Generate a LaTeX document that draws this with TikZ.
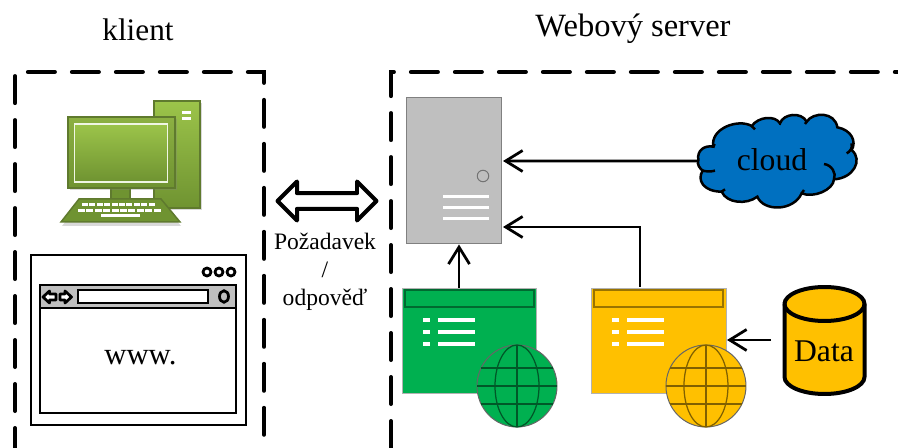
\documentclass[tikz,border=0pt]{standalone}
\usepackage{fontspec}
\setmainfont{Liberation Serif}
\usetikzlibrary{arrows.meta,shapes.arrows,shadows}

\definecolor{pcgreen}{HTML}{9CC44A}
\definecolor{pcdark}{HTML}{6F9331}
\definecolor{pcline}{HTML}{5F7A2E}
\definecolor{wingreen}{HTML}{00B050}
\definecolor{winyellow}{HTML}{FFC000}
\definecolor{cloudblue}{HTML}{0070C0}
\definecolor{servergray}{HTML}{BFBFBF}

\tikzset{
  zone/.style={draw,line width=0.08cm,line cap=round,dash pattern=on 0.54cm off 0.34cm},
  link/.style={draw,line width=0.055cm,-{Straight Barb[length=0.34cm,width=0.42cm]}},
  title/.style={anchor=base,font=\fontsize{18}{22}\selectfont},
  outline/.style={draw,line width=0.055cm},
  webwin/.style={draw=black!30,line width=0.02cm,minimum width=2.7cm,minimum height=2.12cm,inner sep=0},
}

% list, title bar and globe of one web window
\newcommand{\windowparts}[2]{
\begin{scope}[xshift=#1]
\path[draw=#2!60!black,line width=0.025cm] (405,290) rectangle (534,307);
\foreach \row in {320,332,344}{
  \path[fill=white] (423,\row-2) rectangle (430,\row+2);
  \path[fill=white] (438,\row-2) rectangle (475,\row+2);
}
\path[draw=black!60,fill=#2,line width=0.02cm] (517,386) ellipse (0.8cm and 0.82cm);
\path[draw=#2!50!black,line width=0.025cm] (517,386) ellipse (0.44cm and 0.82cm);
\path[draw=#2!50!black,line width=0.025cm] (517,345) -- (517,427);
\path[draw=#2!50!black,line width=0.025cm] (477,386) -- (557,386);
\path[draw=#2!50!black,line width=0.025cm] (481,368) -- (553,368);
\path[draw=#2!50!black,line width=0.025cm] (481,404) -- (553,404);
\end{scope}
}

\begin{document}
\begin{tikzpicture}[x=0.02cm,y=-0.02cm]
\useasboundingbox (0,0) rectangle (898,448);

\node[title,font=\fontsize{17.8}{22}\selectfont] (clienttitle) at (138,41) {klient};
\node[title,font=\fontsize{18.5}{22}\selectfont] (servertitle) at (633,37) {Webový server};

\path[zone,dash phase=0.14cm] (15,448) -- (15,72) -- (264,72) -- (264,448);
\path[zone] (391,448) -- (391,72) -- (898,72);

% computer
\path[draw=pcline,line width=0.03cm,top color=pcgreen,bottom color=pcdark,drop shadow={opacity=0.3,shadow xshift=0.03cm,shadow yshift=-0.05cm}] (154,101) rectangle (200,208);
\path[fill=white] (182,111) rectangle (191,114);
\path[fill=white] (182,117) rectangle (191,120);
\path[draw=pcline,line width=0.03cm,fill=pcdark] (111,186) rectangle (130,201);
\path[draw=pcline,line width=0.03cm,fill=pcdark,drop shadow={opacity=0.3,shadow xshift=0.02cm,shadow yshift=-0.08cm}] (79,199) -- (161,199) -- (180,222) -- (61,222) -- cycle;
\path[draw=pcline,line width=0.03cm,top color=pcgreen!90!black,bottom color=pcdark,drop shadow={opacity=0.3,shadow xshift=0.03cm,shadow yshift=-0.05cm}] (68,117) rectangle (175,188);
\path[draw=white!85!pcgreen,line width=0.03cm,top color=pcgreen,bottom color=pcdark] (74.5,124) rectangle (167.5,182);
\foreach \k in {0,...,9}{
  \path[fill=white] (82+\k*7.4,203.5) rectangle (88+\k*7.4,206.5);
  \path[fill=white] (78+\k*8.4,209) rectangle (85+\k*8.4,212);
}
\path[fill=white] (101,214.5) rectangle (140,217.5);

% browser
\node[outline,minimum width=4.3cm,minimum height=3.4cm,inner sep=0] (browser) at (138.5,340) {};
\node[outline,minimum width=3.92cm,minimum height=2.56cm,inner sep=0] (page) at (138,349) {};
\path[outline,fill=servergray] (40,285) rectangle (236,308);
\node[outline,fill=white,minimum width=2.6cm,minimum height=0.26cm,inner sep=0] (address) at (143,296.5) {};
\node[outline,circle,minimum size=0.16cm,inner sep=0] (dota) at (207,272) {};
\node[outline,circle,minimum size=0.16cm,inner sep=0] (dotb) at (219,272) {};
\node[outline,circle,minimum size=0.16cm,inner sep=0] (dotc) at (231,272) {};
\path[outline] (224,296.5) ellipse (0.09cm and 0.115cm);
\path[outline,fill=white,line join=round] (43,297) -- (49.5,291) -- (49.5,294) -- (56,294) -- (56,300) -- (49.5,300) -- (49.5,303) -- cycle;
\path[outline,fill=white,line join=round] (71.5,297) -- (65,291) -- (65,294) -- (60,294) -- (60,300) -- (65,300) -- (65,303) -- cycle;
\node[title,font=\fontsize{17.5}{22}\selectfont] (www) at (140.5,365) {www.};

% request and response
\node[draw,fill=white,double arrow,line width=0.08cm,line join=round,minimum height=1.98cm,minimum width=0.78cm,double arrow head extend=0.12cm,inner sep=0.04cm] (exchange) at (327,201) {};
\node[align=center,font=\fontsize{13.4}{15.9}\selectfont] (exchangetext) at (325,272) {Požadavek\\/\\odpověď};

% server
\node[draw=black!50,line width=0.02cm,fill=servergray,minimum width=1.9cm,minimum height=2.94cm,inner sep=0] (server) at (453.5,170.5) {};
\path[draw=black!55,line width=0.02cm] (483,176) circle (0.115cm);
\path[fill=white] (443,195) rectangle (489,198);
\path[fill=white] (443,206) rectangle (489,209);
\path[fill=white] (443,217) rectangle (489,220);

% web windows
\node[webwin,fill=wingreen] (greenwin) at (469.5,341) {};
\node[webwin,fill=winyellow] (yellowwin) at (658.5,341) {};
\windowparts{0cm}{wingreen}
\windowparts{3.78cm}{winyellow}

% cloud and data
\begin{scope}[shift={(680,100)},x=0.00667cm,y=-0.00667cm]
\path[draw,fill=cloudblue,line width=0.05cm] (55,180) .. controls (50,150) and (75,135) .. (100,140)
  .. controls (90,85) and (175,55) .. (215,78) .. controls (235,50) and (285,45) .. (300,70)
  .. controls (310,40) and (365,35) .. (380,65) .. controls (400,35) and (465,35) .. (472,82)
  .. controls (515,90) and (530,125) .. (515,150) .. controls (550,180) and (520,235) .. (462,238)
  .. controls (460,270) and (400,295) .. (365,280) .. controls (340,335) and (250,335) .. (232,290)
  .. controls (200,315) and (140,310) .. (125,275) .. controls (70,275) and (50,240) .. (68,212)
  .. controls (60,205) and (50,195) .. (55,180) -- cycle;
\path[draw,line width=0.05cm] (68,212) .. controls (80,215) and (95,215) .. (105,212);
\path[draw,line width=0.05cm] (432,192) .. controls (455,195) and (470,220) .. (462,238);
\path[draw,line width=0.05cm] (500,160) .. controls (510,155) and (518,145) .. (515,130);
\path[draw,line width=0.05cm] (100,140) -- (104,132);
\path[draw,line width=0.05cm] (215,78) -- (225,88);
\path[draw,line width=0.05cm] (300,70) -- (300,75);
\path[draw,line width=0.05cm] (380,65) -- (375,72);
\path[draw,line width=0.05cm] (125,275) -- (135,268);
\path[draw,line width=0.05cm] (365,280) -- (372,270);
\coordinate (cloudwest) at (55,183);
\end{scope}
\node[title] (cloudtext) at (772,171) {cloud};
\path[draw,fill=winyellow,line width=0.08cm] (784.5,304) -- (784.5,377) arc (180:360:0.8cm and 0.34cm) -- (864.5,304) arc (0:180:0.8cm and 0.34cm) -- cycle;
\path[draw,line width=0.08cm] (784.5,304) arc (180:360:0.8cm and 0.34cm);
\node[title] (datatext) at (824,362) {Data};

\coordinate (greenout) at (459,288);
\coordinate (yellowout) at (640,287);
\coordinate (serverin) at (503,227);
\coordinate (yellowin) at (727,340);
\coordinate (cloudin) at (503,161);
\coordinate (dataout) at (771,340);

\path[link] (cloudwest) -- (cloudin);
\path[link] (yellowout) |- (serverin);
\path[link] (greenout) -- (greenout |- server.south);
\path[link] (dataout) -- (yellowin);
\end{tikzpicture}
\end{document}
